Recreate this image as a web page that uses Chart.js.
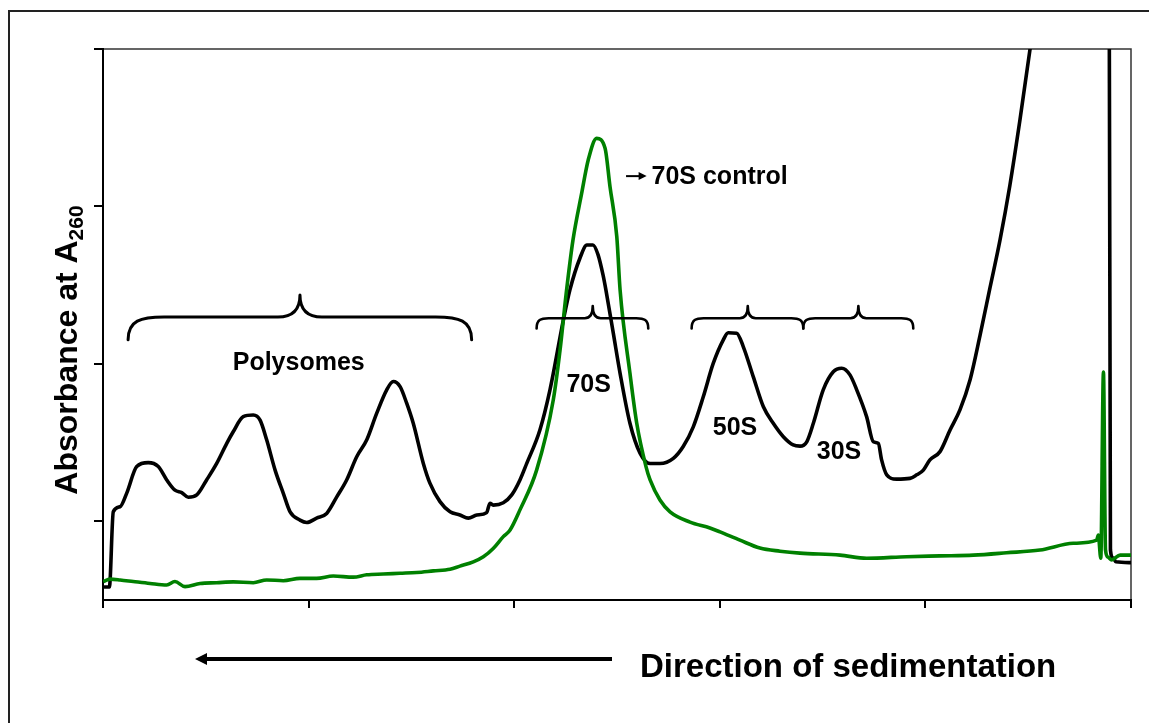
<!DOCTYPE html>
<html>
<head>
<meta charset="utf-8">
<script src="https://cdn.jsdelivr.net/npm/chart.js@4.4.0/dist/chart.umd.min.js"></script>
<style>
html,body{margin:0;padding:0;background:#fff;overflow:hidden}
canvas{display:block}
</style>
</head>
<body>
<canvas id="c" width="1149" height="723"></canvas>
<script>
// ---- Data (fraction position along gradient, absorbance in arbitrary units) ----
const sampleX = [0.05,0.31,0.50,0.83,1.15,1.64,2.20,2.69,3.10,3.50,
  3.83,4.15,4.56,5.04,5.53,6.02,6.34,6.82,7.31,7.64,
  7.96,8.37,8.77,9.10,9.58,9.91,10.39,10.88,11.37,11.85,
  12.34,12.83,13.31,13.80,14.12,14.45,14.77,15.09,15.58,15.90,
  16.39,16.88,17.36,17.77,18.18,18.66,18.82,18.98,19.47,19.88,
  20.28,20.61,21.25,21.74,22.39,22.71,23.20,23.54,23.83,24.08,
  24.32,24.46,24.82,25.15,25.63,26.12,26.61,27.09,27.74,28.22,
  28.71,29.20,29.68,30.17,30.41,30.82,31.14,31.63,32.12,32.60,
  33.09,33.57,33.90,34.23,34.55,35.03,35.52,35.93,36.33,36.66,
  37.14,37.47,37.71,37.87,38.12,38.60,39.25,39.58,39.90,40.22,
  40.71,41.20,41.68,42.17,42.66,43.14,43.63,44.11,44.60,45.09,
  45.57,46.50,47.50,48.90,49.00,49.12,49.27,50.00];
const sampleY = [0.033,0.033,0.224,0.237,0.271,0.339,0.349,0.339,0.305,0.279,
  0.273,0.261,0.267,0.305,0.347,0.398,0.428,0.466,0.470,0.457,
  0.407,0.330,0.271,0.224,0.203,0.197,0.208,0.220,0.262,0.305,
  0.364,0.407,0.474,0.534,0.555,0.542,0.500,0.449,0.347,0.297,
  0.250,0.224,0.216,0.208,0.216,0.222,0.246,0.241,0.247,0.267,
  0.305,0.347,0.432,0.534,0.711,0.788,0.869,0.902,0.902,0.877,
  0.826,0.788,0.678,0.576,0.449,0.373,0.347,0.347,0.360,0.390,
  0.440,0.517,0.601,0.661,0.679,0.678,0.644,0.567,0.491,0.449,
  0.415,0.394,0.391,0.402,0.449,0.534,0.580,0.589,0.572,0.534,
  0.466,0.402,0.398,0.356,0.318,0.307,0.309,0.318,0.330,0.356,
  0.377,0.432,0.483,0.559,0.673,0.793,0.915,1.054,1.220,1.400,
  1.600,2.000,2.300,2.500,0.127,0.107,0.097,0.095];

const controlX = [0.01,0.34,0.83,1.47,2.29,3.10,3.50,3.99,4.72,5.53,
  6.34,7.31,7.96,8.77,9.58,10.39,11.20,12.17,12.83,13.63,
  14.45,15.26,16.07,16.88,17.36,18.01,18.50,18.98,19.47,19.80,
  20.28,21.09,21.90,22.23,22.52,22.86,23.28,23.60,24.01,24.42,
  24.66,24.99,25.15,25.63,25.96,26.41,26.61,27.09,27.58,28.55,
  29.52,30.01,30.98,31.95,32.93,33.90,35.85,37.14,39.09,40.71,
  42.33,43.95,45.57,47.19,48.33,48.41,48.53,48.66,48.76,48.88,
  49.06,49.47,50.00];
const controlY = [0.047,0.053,0.051,0.047,0.042,0.038,0.047,0.034,0.042,0.044,
  0.046,0.044,0.051,0.049,0.055,0.055,0.061,0.058,0.064,0.066,
  0.068,0.070,0.074,0.078,0.086,0.097,0.110,0.131,0.161,0.178,
  0.229,0.330,0.508,0.635,0.775,0.915,1.033,1.118,1.173,1.148,
  1.050,0.923,0.788,0.576,0.449,0.339,0.305,0.254,0.224,0.198,
  0.183,0.173,0.152,0.132,0.124,0.119,0.114,0.106,0.110,0.112,
  0.114,0.120,0.127,0.144,0.152,0.165,0.106,0.579,0.127,0.109,
  0.102,0.114,0.114];

const xTicks = [0,10,20,30,40,50];
const yTicks = [0.2,0.6,1.0,1.4];

// ---- Annotations ----
const braces = [
  {x1:1.22, x2:17.93, xm:9.58, yEnd:0.661, yBar:0.719, yTip:0.775, r:36, rt:22, w:3},
  {x1:21.09, x2:26.52, xm:23.82, yEnd:0.690, yBar:0.716, yTip:0.747, r:12, rt:8, w:2.6},
  {x1:28.63, x2:34.06, xm:31.36, yEnd:0.690, yBar:0.716, yTip:0.747, r:12, rt:8, w:2.6},
  {x1:34.06, x2:39.41, xm:36.74, yEnd:0.690, yBar:0.716, yTip:0.747, r:12, rt:8, w:2.6}
];
const labels = [
  {text:'Polysomes', x:9.52, y:0.602},
  {text:'70S', x:23.62, y:0.546},
  {text:'50S', x:30.74, y:0.437},
  {text:'30S', x:35.80, y:0.375}
];

function drawBrace(ctx, x1, x2, xm, yEnd, yBar, yTip, r, rt) {
  ctx.beginPath();
  ctx.moveTo(x1, yEnd);
  ctx.bezierCurveTo(x1, yBar + (yEnd - yBar) * 0.15, x1 + r * 0.35, yBar, x1 + r, yBar);
  ctx.lineTo(xm - rt, yBar);
  ctx.quadraticCurveTo(xm, yBar, xm, yTip);
  ctx.quadraticCurveTo(xm, yBar, xm + rt, yBar);
  ctx.lineTo(x2 - r, yBar);
  ctx.bezierCurveTo(x2 - r * 0.35, yBar, x2, yBar + (yEnd - yBar) * 0.15, x2, yEnd);
  ctx.stroke();
}

const FONT = '"Liberation Sans", Arial, Helvetica, sans-serif';

const deco = {
  id: 'deco',
  beforeDraw(chart) {
    const ctx = chart.ctx, a = chart.chartArea;
    ctx.save();
    ctx.fillStyle = '#fff';
    ctx.fillRect(0, 0, chart.width, chart.height);
    ctx.strokeStyle = '#222';
    ctx.lineWidth = 2;
    ctx.beginPath();
    ctx.moveTo(9, chart.height + 5);
    ctx.lineTo(9, 11);
    ctx.lineTo(chart.width + 5, 11);
    ctx.stroke();
    ctx.strokeStyle = '#333';
    ctx.lineWidth = 1.5;
    ctx.beginPath();
    ctx.moveTo(a.left, a.top);
    ctx.lineTo(a.right, a.top);
    ctx.lineTo(a.right, a.bottom);
    ctx.stroke();
    ctx.restore();
  },
  afterDatasetsDraw(chart) {
    const ctx = chart.ctx, xs = chart.scales.x, ys = chart.scales.y;
    ctx.save();
    ctx.strokeStyle = '#000';
    ctx.lineCap = 'round';
    ctx.lineJoin = 'round';
    braces.forEach(b => {
      ctx.lineWidth = b.w;
      drawBrace(ctx, xs.getPixelForValue(b.x1), xs.getPixelForValue(b.x2), xs.getPixelForValue(b.xm),
        ys.getPixelForValue(b.yEnd), ys.getPixelForValue(b.yBar), ys.getPixelForValue(b.yTip), b.r, b.rt);
    });
    ctx.fillStyle = '#000';
    ctx.font = 'bold 25px ' + FONT;
    ctx.textAlign = 'center';
    ctx.textBaseline = 'middle';
    labels.forEach(l => ctx.fillText(l.text, xs.getPixelForValue(l.x), ys.getPixelForValue(l.y)));

    const ax1 = xs.getPixelForValue(25.44), ax2 = xs.getPixelForValue(26.44), ay = ys.getPixelForValue(1.077);
    ctx.lineWidth = 2;
    ctx.lineCap = 'butt';
    ctx.beginPath();
    ctx.moveTo(ax1, ay);
    ctx.lineTo(ax2 - 6, ay);
    ctx.stroke();
    ctx.beginPath();
    ctx.moveTo(ax2, ay);
    ctx.lineTo(ax2 - 8, ay - 4);
    ctx.lineTo(ax2 - 8, ay + 4);
    ctx.closePath();
    ctx.fill();
    ctx.textAlign = 'left';
    ctx.fillText('70S control', xs.getPixelForValue(26.68), ay + 1);

    ctx.save();
    ctx.translate(77, 350);
    ctx.rotate(-Math.PI / 2);
    ctx.textAlign = 'left';
    ctx.textBaseline = 'alphabetic';
    const mainT = 'Absorbance at A', subT = '260';
    ctx.font = 'bold 32px ' + FONT;
    const w1 = ctx.measureText(mainT).width;
    ctx.font = 'bold 21px ' + FONT;
    const w2 = ctx.measureText(subT).width;
    const start = -(w1 + w2) / 2;
    ctx.font = 'bold 32px ' + FONT;
    ctx.fillText(mainT, start, 0);
    ctx.font = 'bold 21px ' + FONT;
    ctx.fillText(subT, start + w1, 6);
    ctx.restore();

    ctx.lineWidth = 4;
    ctx.beginPath();
    ctx.moveTo(612, 659);
    ctx.lineTo(204, 659);
    ctx.stroke();
    ctx.beginPath();
    ctx.moveTo(195, 659);
    ctx.lineTo(207, 653);
    ctx.lineTo(207, 665);
    ctx.closePath();
    ctx.fill();
    ctx.font = 'bold 33px ' + FONT;
    ctx.textAlign = 'left';
    ctx.textBaseline = 'alphabetic';
    ctx.fillText('Direction of sedimentation', 640, 677);
    ctx.restore();
  }
};

const toPts = (xa, ya) => xa.map((x, i) => ({x: x, y: ya[i]}));

new Chart(document.getElementById('c').getContext('2d'), {
  type: 'line',
  data: {
    datasets: [
      {label: 'Sample', data: toPts(sampleX, sampleY), borderColor: '#000', borderWidth: 3.6,
       pointRadius: 0, cubicInterpolationMode: 'monotone', fill: false, order: 2},
      {label: '70S control', data: toPts(controlX, controlY), borderColor: '#008000', borderWidth: 3.6,
       pointRadius: 0, cubicInterpolationMode: 'monotone', fill: false, order: 1}
    ]
  },
  options: {
    responsive: false,
    animation: false,
    devicePixelRatio: 1,
    layout: {padding: {left: 94, right: 18, top: 49, bottom: 115}},
    plugins: {legend: {display: false}, tooltip: {enabled: false}, title: {display: false}},
    scales: {
      x: {
        type: 'linear', min: 0, max: 50,
        afterBuildTicks: s => { s.ticks = xTicks.map(v => ({value: v})); },
        afterFit: s => { s.height = 8; },
        ticks: {display: false},
        grid: {display: true, drawOnChartArea: false, drawTicks: true, tickLength: 8, color: '#000', lineWidth: 2},
        border: {display: true, color: '#000', width: 2}
      },
      y: {
        type: 'linear', min: 0, max: 1.4,
        afterBuildTicks: s => { s.ticks = yTicks.map(v => ({value: v})); },
        afterFit: s => { s.width = 9; },
        ticks: {display: false},
        grid: {display: true, drawOnChartArea: false, drawTicks: true, tickLength: 9, color: '#000', lineWidth: 2},
        border: {display: true, color: '#000', width: 2}
      }
    }
  },
  plugins: [deco]
});
</script>
</body>
</html>
